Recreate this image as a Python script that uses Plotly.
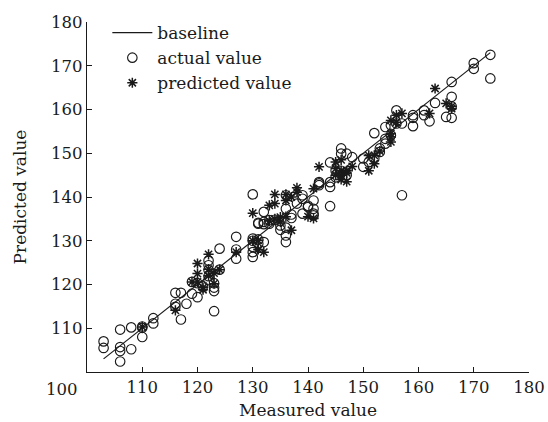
import plotly.graph_objects as go

# ---- data ----
baseline_x = [103, 173]
baseline_y = [103, 173]

actual_x = [103, 103,
            106, 106, 106, 106,
            108, 108,
            110, 110, 110,
            112, 112,
            116, 116, 116,
            117, 117,
            118,
            119, 119,
            120, 120,
            121,
            122, 122, 122, 122, 122,
            123, 123, 123, 123,
            124, 124,
            127, 127, 127,
            130, 130, 130, 130, 130, 130,
            131, 131, 131, 131,
            132, 132, 132, 132,
            133, 133,
            134,
            135, 135,
            136, 136, 136, 136, 136,
            137, 137,
            138,
            139, 139, 139,
            140, 140,
            141, 141, 141, 141,
            142, 142, 142,
            144, 144, 144, 144,
            145, 145,
            146, 146, 146,
            147, 147,
            148,
            150, 150,
            151,
            152, 152,
            153, 153,
            154, 154, 154,
            155, 155,
            156, 156,
            157, 157,
            159, 159, 159,
            161, 161,
            162,
            163,
            165,
            166, 166, 166, 166,
            170, 170,
            173, 173]
actual_y = [107.0, 105.5,
            109.7, 105.7, 104.8, 102.4,
            110.2, 105.2,
            110.4, 110.1, 108.0,
            112.3, 111.1,
            118.1, 115.6, 114.9,
            118.1, 112.0,
            115.6,
            120.6, 117.9,
            117.1, 120.3,
            119.6,
            125.5, 124.4, 123.3, 121.9, 121.0,
            120.3, 119.3, 118.5, 113.9,
            128.2, 123.4,
            130.9, 128.0, 125.9,
            140.6, 130.5, 130.0, 128.6, 127.4, 126.3,
            133.9, 130.3, 129.3, 134.1,
            136.6, 134.3, 133.8, 129.7,
            133.9, 134.7,
            134.8,
            133.5, 132.5,
            140.4, 129.7, 131.2, 137.3, 133.0,
            136.0, 135.2,
            138.5,
            140.4, 139.6, 136.2,
            137.7, 138.0,
            135.8, 139.2, 137.3, 136.2,
            143.1, 143.4, 142.7,
            147.9, 143.4, 142.3, 137.9,
            146.0, 144.5,
            151.1, 149.9, 146.0,
            149.9, 145.0,
            149.1,
            148.8, 146.9,
            148.0,
            154.6, 148.8,
            151.1, 150.3,
            156.0, 153.3, 152.2,
            156.4, 154.1,
            156.8, 159.8,
            156.8, 140.4,
            158.7, 158.1, 156.2,
            159.8, 158.7,
            157.3,
            161.5,
            158.3,
            166.3, 162.9, 160.7, 158.1,
            170.6, 169.3,
            172.5, 167.1]

pred_x = [110,
          116,
          119,
          120, 120, 120,
          121, 121,
          122, 122, 122,
          123, 123,
          124,
          127,
          130, 130,
          131, 131,
          132,
          133, 133,
          134, 134, 134,
          135, 135,
          136, 136, 136,
          137, 137,
          138, 138,
          140,
          141, 141,
          142,
          145, 145, 145,
          146, 146, 146, 146,
          147, 147, 147,
          148,
          151, 151,
          152, 152,
          153,
          155, 155, 155, 155,
          156, 156,
          157,
          162,
          163,
          165,
          166, 166]
pred_y = [110.3,
          114.1,
          120.6,
          124.8, 122.5, 120.6,
          119.3, 118.8,
          126.9, 123.5, 122.0,
          122.6, 120.2,
          123.4,
          127.4,
          136.3, 130.0,
          130.1, 128.0,
          127.4,
          138.1, 134.5,
          140.6, 138.5, 135.0,
          135.4, 134.3,
          140.6, 139.2, 135.5,
          132.4, 140.0,
          142.1, 141.1,
          135.5,
          135.1, 141.9,
          146.9,
          148.0, 146.5, 145.0,
          148.5, 146.0, 145.0, 144.0,
          146.0, 145.5, 143.5,
          147.0,
          149.5, 146.0,
          149.5, 147.6,
          150.5,
          157.5, 153.7, 152.6, 154.5,
          157.1, 158.7,
          159.1,
          159.1,
          164.8,
          161.4,
          160.7, 160.2]

x_ticks = [110, 120, 130, 140, 150, 160, 170, 180]
y_ticks = [110, 120, 130, 140, 150, 160, 170, 180]
corner_label = "100"

FONT = "DejaVu Serif"
INK = "#1a1a1a"
TICK_SIZE = 16.5
TEXT_SIZE = 17

fig = go.Figure()
fig.add_trace(go.Scatter(x=baseline_x, y=baseline_y, mode="lines",
                         name="baseline", line=dict(color=INK, width=1.2)))
fig.add_trace(go.Scatter(x=actual_x, y=actual_y, mode="markers",
                         name="actual value",
                         marker=dict(symbol="circle-open", size=9.5,
                                     color=INK, line=dict(width=1.15))))
fig.add_trace(go.Scatter(x=pred_x, y=pred_y, mode="markers",
                         name="predicted value",
                         marker=dict(symbol="asterisk-open", size=8.5,
                                     color=INK, line=dict(width=1.5, color=INK))))

axis_common = dict(showgrid=False, zeroline=False, showline=True,
                   linecolor=INK, linewidth=1.2, ticks="inside",
                   ticklen=5, tickwidth=1.2, tickcolor=INK,
                   tickfont=dict(family=FONT, size=TICK_SIZE, color=INK),
                   range=[100, 180], mirror=False, automargin=False)

fig.update_layout(
    width=548, height=422,
    margin=dict(l=87, r=19, t=22, b=50),
    paper_bgcolor="white", plot_bgcolor="white",
    font=dict(family=FONT, size=TEXT_SIZE, color=INK),
    hovermode=False,
    xaxis=dict(**axis_common, tickvals=x_ticks,
               title=dict(text="Measured value", standoff=8,
                          font=dict(family=FONT, size=TEXT_SIZE, color=INK))),
    yaxis=dict(**axis_common, tickvals=y_ticks,
               title=dict(text="Predicted value", standoff=20,
                          font=dict(family=FONT, size=TEXT_SIZE, color=INK))),
    legend=dict(x=0.046, y=1.02, xanchor="left", yanchor="top",
                bgcolor="rgba(0,0,0,0)",
                font=dict(family=FONT, size=TEXT_SIZE, color=INK),
                tracegroupgap=0, itemwidth=40),
    showlegend=True,
)
fig.add_annotation(text=corner_label, xref="paper", yref="paper",
                   x=-0.057, y=-0.05, showarrow=False,
                   xanchor="center", yanchor="middle",
                   font=dict(family=FONT, size=TICK_SIZE, color=INK))

fig.write_html("out.html",
               config={"displayModeBar": False},
               post_script="document.body.style.margin='0';"
                           "document.body.style.overflow='hidden';")
